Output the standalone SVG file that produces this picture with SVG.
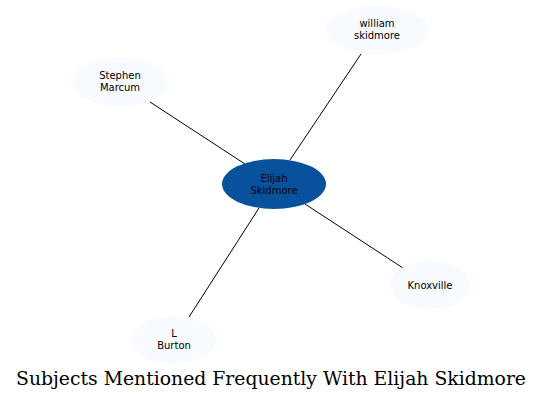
<svg xmlns="http://www.w3.org/2000/svg" width="543" height="401" viewBox="0 0 543 401">
<style>
.n{fill:#f7fbff;stroke:none}
.c{fill:#08519c;stroke:none}
.t{font-family:"DejaVu Sans",sans-serif;font-size:10px;text-anchor:middle;fill:#000}
.e{stroke:#000;stroke-width:1;fill:none}
.title{font-family:"DejaVu Serif",serif;font-size:18px;text-anchor:middle;fill:#000}
</style>
<rect width="543" height="401" fill="#fff"/>
<g id="edges">
<line class="e" x1="245" y1="164" x2="150" y2="102"/>
<line class="e" x1="290" y1="160" x2="361" y2="54"/>
<line class="e" x1="305" y1="204" x2="403" y2="268"/>
<line class="e" x1="259" y1="208" x2="189" y2="317"/>
</g>
<g id="n_elijah">
<ellipse class="c" cx="274" cy="184" rx="52" ry="25"/>
<text class="t" x="274" y="182">Elijah</text>
<text class="t" x="274" y="194">Skidmore</text>
</g>
<g id="n_stephen">
<ellipse class="n" cx="120" cy="82" rx="48" ry="24"/>
<text class="t" x="120" y="79">Stephen</text>
<text class="t" x="120" y="91">Marcum</text>
</g>
<g id="n_william">
<ellipse class="n" cx="377" cy="30" rx="51" ry="24"/>
<text class="t" x="377" y="27">william</text>
<text class="t" x="377" y="39">skidmore</text>
</g>
<g id="n_knoxville">
<ellipse class="n" cx="430" cy="285" rx="40" ry="24"/>
<text class="t" x="430" y="289">Knoxville</text>
</g>
<g id="n_burton">
<ellipse class="n" cx="174" cy="340" rx="42" ry="24"/>
<text class="t" x="174" y="337">L</text>
<text class="t" x="174" y="349">Burton</text>
</g>
<text class="title" x="271" y="385" textLength="510" lengthAdjust="spacingAndGlyphs">Subjects Mentioned Frequently With Elijah Skidmore</text>
</svg>
